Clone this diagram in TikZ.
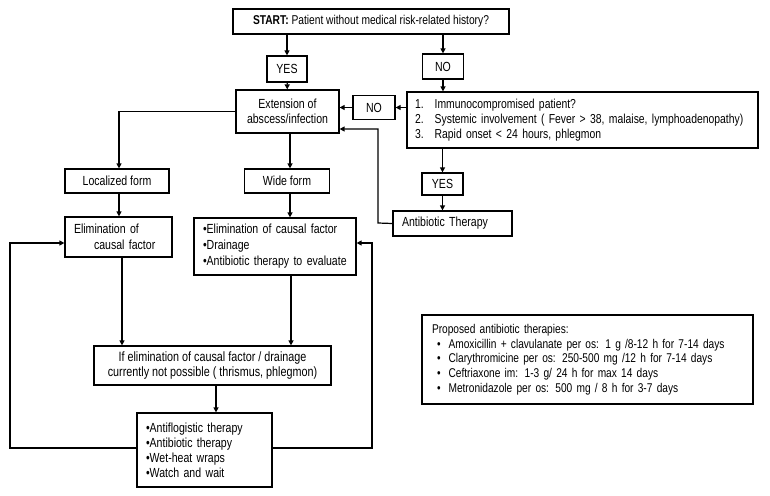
\documentclass[tikz,border=0pt]{standalone}
\usepackage{fontspec}
\setmainfont{Liberation Sans}[FakeStretch=0.8]
\usetikzlibrary{arrows.meta}
\begin{document}
\begin{tikzpicture}[x=1pt,y=-1pt,
  box/.style={draw, line width=1.2pt, inner sep=0pt, font=\fontsize{13.2}{15.5}\selectfont},
  lbox/.style={box, align=left},
  conn/.style={line width=1.2pt, -{Triangle[length=5pt,width=5pt]}}]
\useasboundingbox (0,0) rectangle (770,495);
% nodes
\node[box, minimum width=276pt, minimum height=25pt, font=\fontsize{12.8}{15}\selectfont] (start) at (371,21.5) {\textbf{START:} Patient without medical risk-related history?};
\node[box, minimum width=40pt, minimum height=26pt] (yes1) at (287,69) {YES};
\node[box, minimum width=41pt, minimum height=25pt] (no1) at (443,66.5) {NO};
\node[box, minimum width=103pt, minimum height=43pt, align=center] (ext) at (287.5,111.5) {Extension of\\abscess/infection};
\node[box, minimum width=42pt, minimum height=24pt] (no2) at (374,107.5) {NO};
\node[lbox, text width=335pt, inner xsep=8pt, minimum height=56pt, font=\fontsize{13}{15}\selectfont] (crit) at (582.5,120) {%
  1.\hspace{11pt}Immunocompromised patient?\\
  2.\hspace{11pt}Systemic involvement ( Fever > 38, malaise, lymphoadenopathy)\\
  3.\hspace{11pt}Rapid onset < 24 hours, phlegmon};
\node[box, minimum width=41pt, minimum height=22pt] (yes2) at (442.5,184) {YES};
\node[lbox, text width=101pt, inner xsep=9pt, minimum height=25pt] (abt) at (452.5,223.5) {Antibiotic Therapy};
\node[box, minimum width=104pt, minimum height=24pt] (loc) at (117,181) {Localized form};
\node[box, minimum width=85pt, minimum height=24pt] (wide) at (287,181) {Wide form};
\node[lbox, text width=89pt, inner xsep=9pt, minimum height=40pt] (elim) at (118.5,237) {Elimination of\\\hspace*{20pt}causal factor};
\node[lbox, text width=144pt, inner xsep=9pt, minimum height=57pt, font=\fontsize{13.2}{16}\selectfont] (list) at (275,246.5) {%
  •Elimination of causal factor\\
  •Drainage\\
  •Antibiotic therapy to evaluate};
\node[box, minimum width=237pt, minimum height=39pt, align=center, font=\fontsize{13.5}{15.5}\selectfont] (cond) at (212.5,365.5) {If elimination of causal factor / drainage\\currently not possible ( thrismus, phlegmon)};
\node[lbox, text width=117pt, inner xsep=9pt, minimum height=74pt, font=\fontsize{13.2}{15}\selectfont] (bot) at (204.5,450) {%
  •Antiflogistic therapy\\
  •Antibiotic therapy\\
  •Wet-heat wraps\\
  •Watch and wait};
\node[lbox, text width=311pt, inner xsep=10pt, minimum height=89pt, font=\fontsize{12.7}{14.7}\selectfont] (prop) at (587.5,359.5) {%
  Proposed antibiotic therapies:\\
  \hspace*{5pt}•\hspace{8pt}Amoxicillin + clavulanate per os: 1 g /8-12 h for 7-14 days\\
  \hspace*{5pt}•\hspace{8pt}Clarythromicine per os: 250-500 mg /12 h for 7-14 days\\
  \hspace*{5pt}•\hspace{8pt}Ceftriaxone im: 1-3 g/ 24 h for max 14 days\\
  \hspace*{5pt}•\hspace{8pt}Metronidazole per os: 500 mg / 8 h for 3-7 days};
% helper coordinates
\coordinate (c1) at (378,223);
\coordinate (c2) at (378,129);
\coordinate (c3) at (119,111.5);
\coordinate (c4) at (10,448);
\coordinate (c5) at (10,243);
\coordinate (c6) at (372,448);
\coordinate (c7) at (372,243);
% connectors
\draw[conn] (start.south -| yes1.north) -- (yes1.north);
\draw[conn] (start.south -| no1.north) -- (no1.north);
\draw[conn] (yes1) -- (ext);
\draw[conn] (no1.south) -- (no1.south |- crit.north);
\draw[conn] (crit.west |- no2.east) -- (no2.east);
\draw[conn] (no2.west) -- (no2.west -| ext.east);
\draw[conn] (crit.south -| yes2.north) -- (yes2.north);
\draw[conn] (yes2.south) -- (yes2.south |- abt.north);
\draw[conn] (abt.west) -- (c1) -- (c2) -- (c2 -| ext.east);
\draw[conn] (ext.west) -- (c3) -- (c3 |- loc.north);
\draw[conn] ([xshift=2.5pt]ext.south) -- ([xshift=2.5pt]ext.south |- wide.north);
\draw[conn] (loc.south -| c3) -- (c3 |- elim.north);
\draw[conn] ([xshift=3pt]wide.south) -- ([xshift=3pt]wide.south |- list.north);
\draw[conn] ([xshift=3.5pt]elim.south) -- ([xshift=3.5pt]elim.south |- cond.north);
\draw[conn] ([xshift=16pt]list.south) -- ([xshift=16pt]list.south |- cond.north);
\draw[conn] ([xshift=3.5pt]cond.south) -- ([xshift=3.5pt]cond.south |- bot.north);
\draw[conn] (bot.west |- c4) -- (c4) -- (c5) -- (c5 -| elim.west);
\draw[conn] (bot.east |- c6) -- (c6) -- (c7) -- (c7 -| list.east);
\end{tikzpicture}
\end{document}
